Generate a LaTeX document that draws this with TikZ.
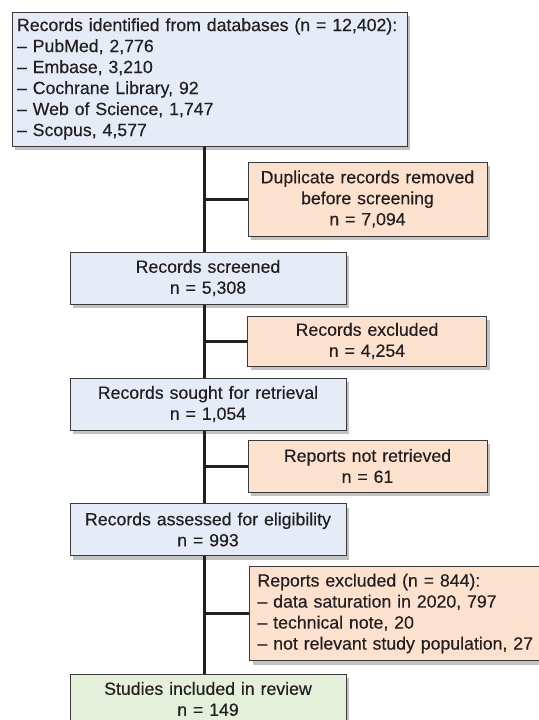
\documentclass[tikz,border=0pt]{standalone}
\usepackage{fontspec}
\setmainfont{Liberation Sans}[FakeBold=0.35]
\usepackage{xcolor}
\usetikzlibrary{shadows}

\definecolor{boxblue}{HTML}{E5ECF7}
\definecolor{boxorange}{HTML}{FDE1CF}
\definecolor{boxgreen}{HTML}{E4F0D9}
\definecolor{boxline}{HTML}{3A3A3A}
\definecolor{inktext}{HTML}{231F20}

\tikzset{
    box/.style={draw=boxline,line width=1pt,text=inktext,
        inner xsep=8pt,inner ysep=4pt,
        font=\fontsize{17.7}{21}\selectfont,
        drop shadow={shadow xshift=3pt,shadow yshift=-4pt,
            fill=black!60,opacity=0.4}},
    mainbox/.style={box,fill=boxblue,align=center,
        minimum width=276pt,text width=260pt,minimum height=52pt},
    sidebox/.style={box,fill=boxorange,align=center,
        minimum width=239pt,text width=223pt},
    spine/.style={line width=3pt,draw=inktext},
}

\begin{document}
\begin{tikzpicture}[x=1pt,y=-1pt]
    \useasboundingbox (0,0) rectangle (538,720);

    % Identification
    \node[box,fill=boxblue,align=left,text width=385pt,inner xsep=5pt,
        minimum height=134pt] (ids) at (209.5,79) {%
        Records identified from databases (n = 12,402):\\
        -- PubMed, 2,776\\
        -- Embase, 3,210\\
        -- Cochrane Library, 92\\
        -- Web of Science, 1,747\\
        -- Scopus, 4,577};
    \node[sidebox,minimum height=74pt] (dup) at (367.5,199) {%
        Duplicate records removed\\ before screening\\ n = 7,094};

    % Screening
    \node[mainbox] (scr) at (208,278) {Records screened\\ n = 5,308};
    \node[sidebox,minimum height=50pt] (excl) at (367,341)
        {Records excluded\\ n = 4,254};

    \node[mainbox] (sought) at (208,404)
        {Records sought for retrieval\\ n = 1,054};
    \node[sidebox,minimum height=52pt] (notret) at (367.5,466)
        {Reports not retrieved\\ n = 61};

    \node[mainbox] (elig) at (208,529.5)
        {Records assessed for eligibility\\ n = 993};
    \node[box,fill=boxorange,align=left,anchor=north west,
        text width=290pt,minimum height=94pt] (rexcl) at (249,566) {%
        Reports excluded (n = 844):\\
        -- data saturation in 2020, 797\\
        -- technical note, 20\\
        -- not relevant study population, 27};

    % Included
    \node[mainbox,fill=boxgreen,minimum height=50pt] (incl) at (208,699)
        {Studies included in review\\ n = 149};

    % Spine and branches
    \coordinate (spine) at (204,0);
    \draw[spine] (ids.south -| spine) -- (scr.north -| spine);
    \draw[spine] (scr.south -| spine) -- (sought.north -| spine);
    \draw[spine] (sought.south -| spine) -- (elig.north -| spine);
    \draw[spine] (elig.south -| spine) -- (incl.north -| spine);
    \foreach \b in {dup,excl,notret,rexcl} {
        \draw[spine] (\b.west -| spine) -- (\b.west);
    }

\end{tikzpicture}
\end{document}
